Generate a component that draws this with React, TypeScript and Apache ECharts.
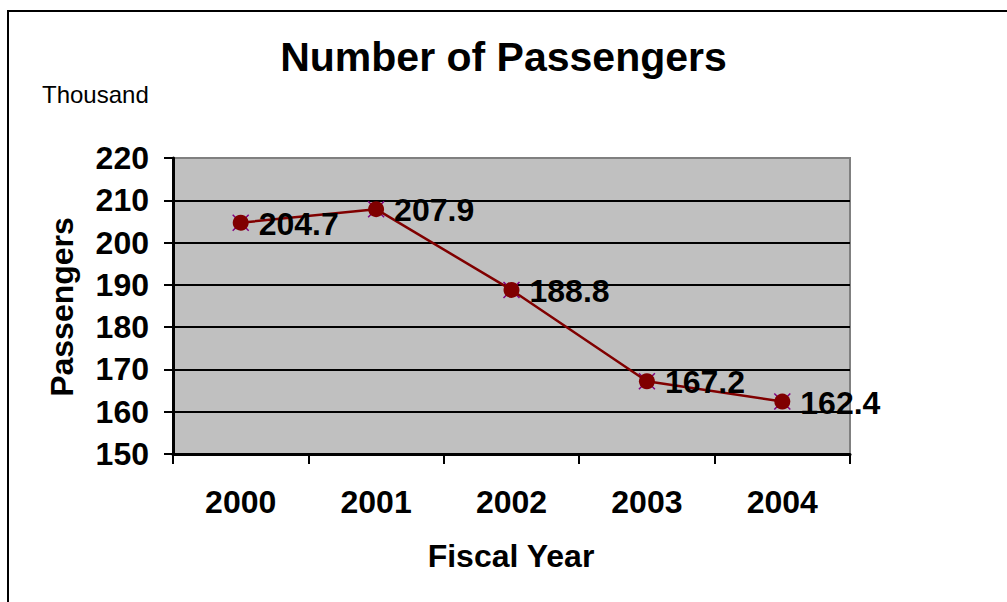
import React, { useEffect, useRef } from "react";
import * as echarts from "echarts";

const categories = ["2000", "2001", "2002", "2003", "2004"];
const passengers = [204.7, 207.9, 188.8, 167.2, 162.4];
const yTicks = [150, 220, 10];

const FONT = "'Liberation Sans', Arial, sans-serif";

export default function App() {
  const ref = useRef<HTMLDivElement>(null);
  useEffect(() => {
    if (!ref.current) return;
    const chart = echarts.init(ref.current, null, { renderer: "svg" });
    chart.setOption({
      animation: false,
      backgroundColor: "#ffffff",
      textStyle: { fontFamily: FONT },
      title: {
        text: "Number of Passengers",
        left: "center",
        top: 36,
        padding: 0,
        textStyle: { fontFamily: FONT, fontSize: 41, fontWeight: "bold", color: "#000" },
      },
      grid: {
        left: 173,
        right: 157,
        top: 158,
        bottom: 148,
        show: true,
        backgroundColor: "#C0C0C0",
        borderColor: "#808080",
        borderWidth: 2,
      },
      xAxis: {
        type: "category",
        data: categories,
        boundaryGap: true,
        axisLine: { show: true, lineStyle: { color: "#000", width: 3 } },
        axisTick: { show: true, inside: false, length: 10, alignWithLabel: false, lineStyle: { color: "#000", width: 2 } },
        axisLabel: { fontFamily: FONT, fontSize: 32, fontWeight: "bold", color: "#000", margin: 32 },
        splitLine: { show: false },
      },
      yAxis: {
        type: "value",
        min: yTicks[0],
        max: yTicks[1],
        interval: yTicks[2],
        axisLine: { show: true, lineStyle: { color: "#000", width: 3 } },
        axisTick: { show: true, inside: false, length: 9, lineStyle: { color: "#000", width: 2 } },
        axisLabel: { fontFamily: FONT, fontSize: 32, fontWeight: "bold", color: "#000", margin: 24 },
        splitLine: {
          show: true,
          lineStyle: {
            color: ["#000", "#000", "#000", "#000", "#000", "#000", "#000", "#808080"],
            width: 2,
          },
        },
      },
      series: [
        {
          type: "line",
          data: passengers,
          symbol: "path://M0,0L10,10M10,0L0,10",
          symbolSize: 16,
          showSymbol: true,
          lineStyle: { width: 0, opacity: 0 },
          itemStyle: { color: "none", borderColor: "#800080", borderWidth: 1.5 },
          z: 1,
          silent: true,
        },
        {
          type: "line",
          data: passengers,
          symbol: "circle",
          symbolSize: 16,
          lineStyle: { color: "#800000", width: 2.5 },
          itemStyle: { color: "#800000" },
          z: 5,
          label: {
            show: true,
            position: "right",
            distance: 10,
            offset: [0, 1],
            fontFamily: FONT,
            fontSize: 32,
            fontWeight: "bold",
            color: "#000",
            formatter: (p: any) => p.value.toFixed(1),
          },
        },
      ],
      graphic: [
        {
          type: "rect",
          shape: { x: 8, y: 11, width: 1020, height: 620 },
          style: { fill: "none", stroke: "#000", lineWidth: 2 },
          silent: true,
        },
        {
          type: "text",
          x: 42,
          y: 94,
          style: { text: "Thousand", font: `24px ${FONT}`, fill: "#000", verticalAlign: "middle", align: "left" },
        },
        {
          type: "text",
          x: 62,
          y: 307,
          rotation: Math.PI / 2,
          style: { text: "Passengers", font: `bold 32px ${FONT}`, fill: "#000", verticalAlign: "middle", align: "center" },
        },
        {
          type: "text",
          x: 511,
          y: 556,
          style: { text: "Fiscal Year", font: `bold 32px ${FONT}`, fill: "#000", verticalAlign: "middle", align: "center" },
        },
      ],
    });
    return () => chart.dispose();
  }, []);
  return (
    <div
      ref={ref}
      style={{ position: "absolute", left: 0, top: 0, width: 1007, height: 602 }}
    />
  );
}
